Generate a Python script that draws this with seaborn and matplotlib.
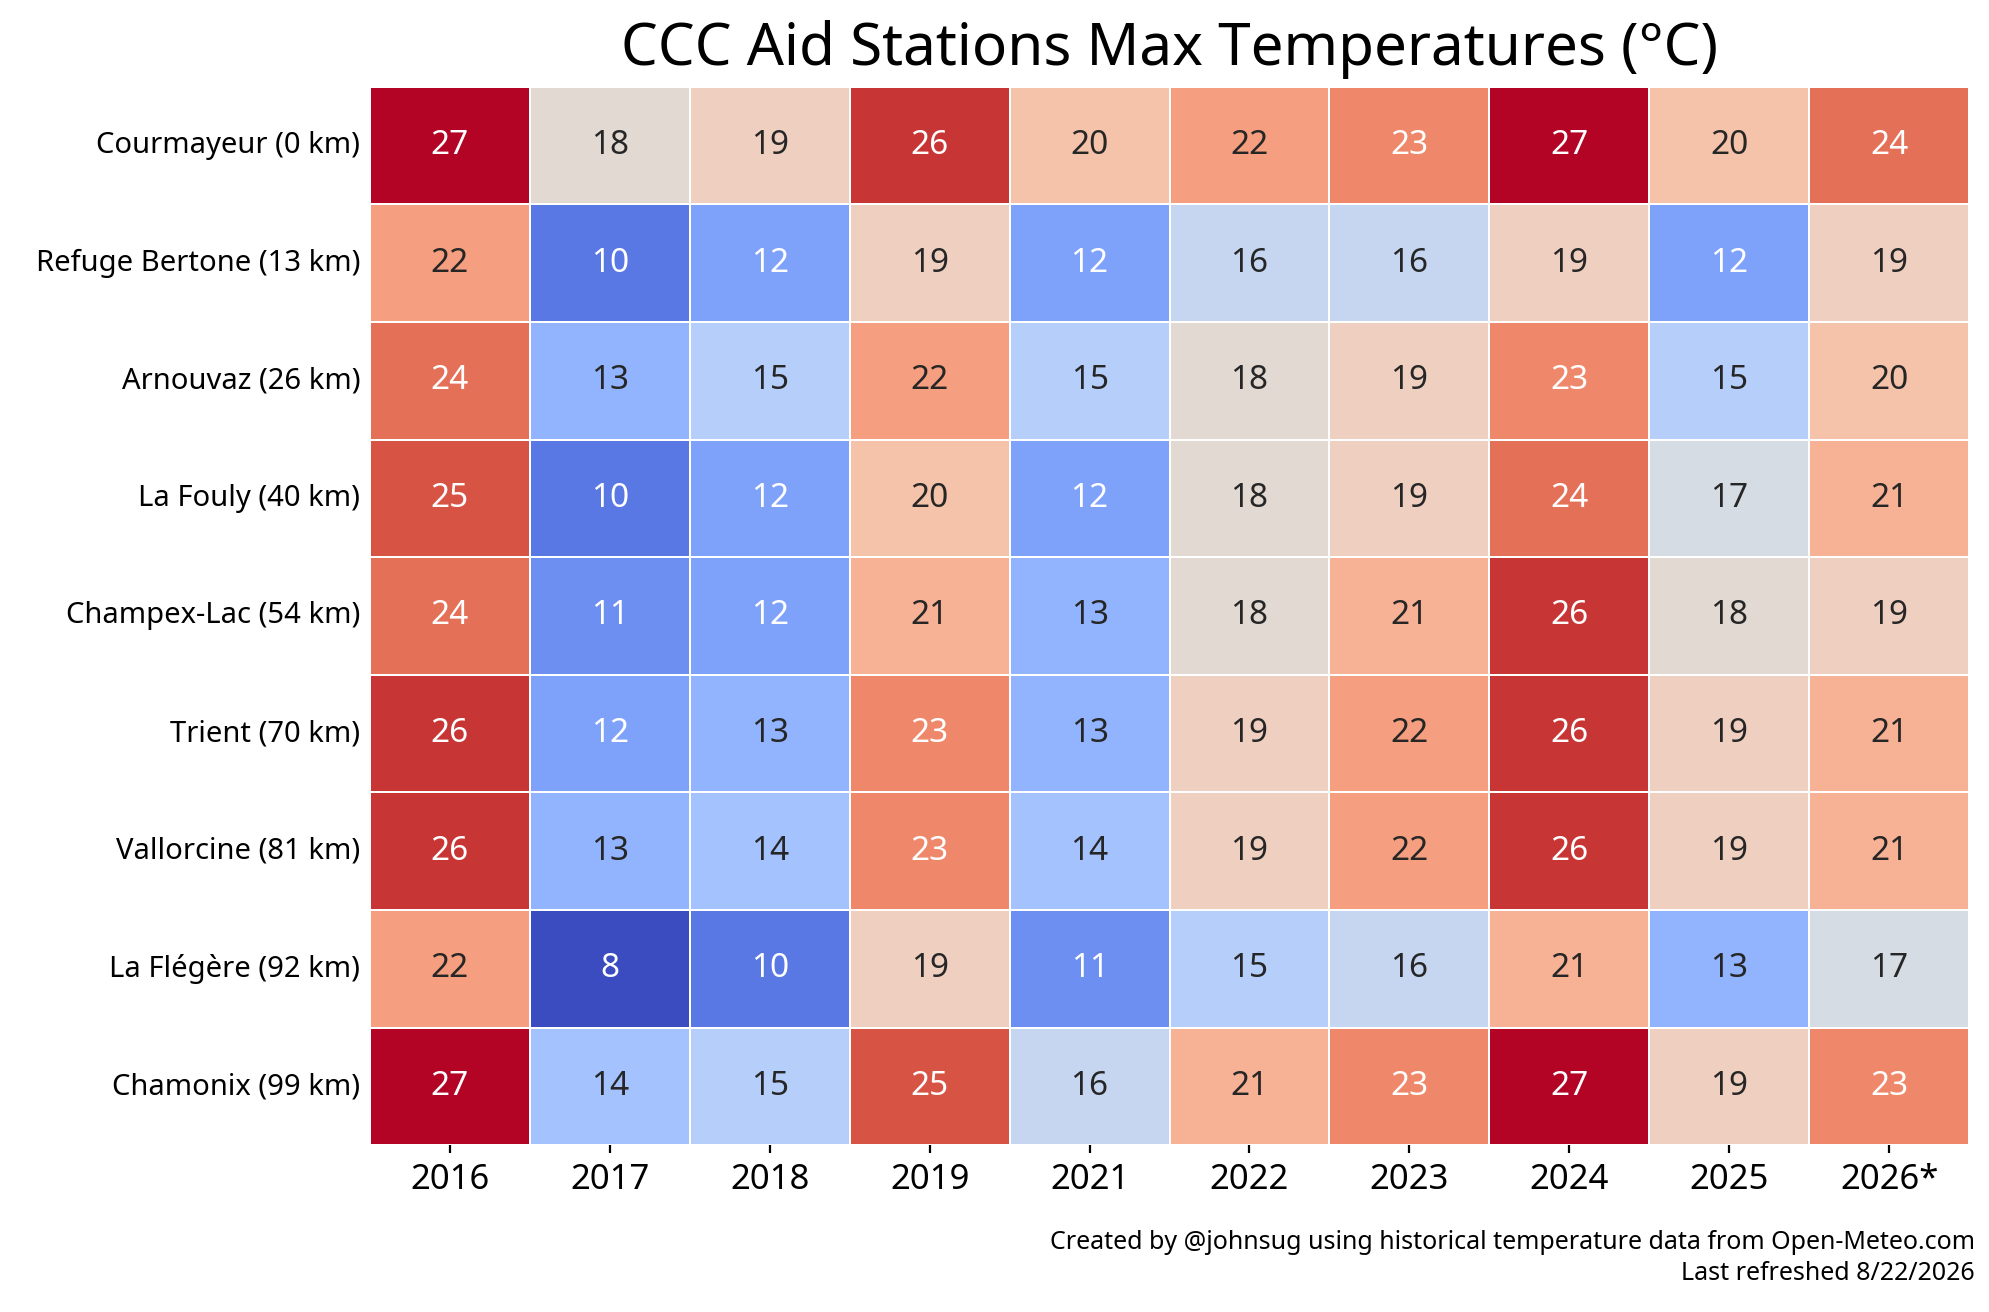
import numpy as np
import pandas as pd
import matplotlib.pyplot as plt
import seaborn as sns

stations = ["Courmayeur (0 km)", "Refuge Bertone (13 km)", "Arnouvaz (26 km)",
            "La Fouly (40 km)", "Champex-Lac (54 km)", "Trient (70 km)",
            "Vallorcine (81 km)", "La Flégère (92 km)", "Chamonix (99 km)"]
years = ["2016", "2017", "2018", "2019", "2021", "2022", "2023", "2024", "2025", "2026*"]

temps = [
    [27, 18, 19, 26, 20, 22, 23, 27, 20, 24],
    [22, 10, 12, 19, 12, 16, 16, 19, 12, 19],
    [24, 13, 15, 22, 15, 18, 19, 23, 15, 20],
    [25, 10, 12, 20, 12, 18, 19, 24, 17, 21],
    [24, 11, 12, 21, 13, 18, 21, 26, 18, 19],
    [26, 12, 13, 23, 13, 19, 22, 26, 19, 21],
    [26, 13, 14, 23, 14, 19, 22, 26, 19, 21],
    [22, 8, 10, 19, 11, 15, 16, 21, 13, 17],
    [27, 14, 15, 25, 16, 21, 23, 27, 19, 23],
]

df = pd.DataFrame(temps, index=stations, columns=years)

plt.rcParams['font.family'] = ['Noto Sans', 'DejaVu Sans']
fig = plt.figure(figsize=(9.945, 6.56), dpi=200)
ax = fig.add_axes([0.186, 0.127, 0.804, 0.807])

sns.heatmap(df, ax=ax, cmap="coolwarm", vmin=8, vmax=27, annot=True, fmt="d",
            linewidths=0.6, linecolor="white", cbar=False,
            annot_kws={"fontsize": 12, "fontweight": "bold"})

ax.set_xticklabels(years, fontsize=12.5, fontweight="bold")
ax.set_yticklabels(stations, fontsize=10.5, fontweight="bold", rotation=0)
ax.tick_params(axis="y", length=0)
ax.tick_params(axis="x", length=3)
ax.set_xlabel("")
ax.set_ylabel("")

fig.text(0.588, 0.962, "CCC Aid Stations Max Temperatures (°C)", ha="center", va="center",
         fontsize=21, fontweight="bold")
fig.text(0.993, 0.02, "Created by @johnsug using historical temperature data from Open-Meteo.com\nLast refreshed 8/22/2026",
         ha="right", va="bottom", fontsize=9, fontweight="bold", linespacing=1.3)

fig.savefig("out.png", dpi=200)
